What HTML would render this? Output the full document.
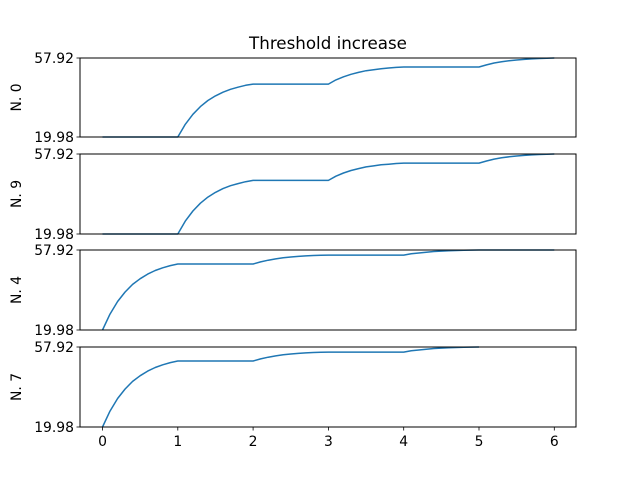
<!DOCTYPE html>
<html><head><meta charset="utf-8"><style>
html,body{margin:0;padding:0;background:#fff}
svg text{font-family:"DejaVu Sans","Liberation Sans",sans-serif;font-size:13.9px;fill:#000}
</style></head><body>
<svg id="chart" width="640" height="480" xmlns="http://www.w3.org/2000/svg">
<text x="328" y="49" text-anchor="middle" style="font-size:16.7px">Threshold increase</text>
</svg>
<script>
const times=[0,0.1,0.2,0.3,0.4,0.5,0.6,0.7,0.8,0.9,1,1.1,1.2,1.3,1.4,1.5,1.6,1.7,1.8,1.9,2,2.1,2.2,2.3,2.4,2.5,2.6,2.7,2.8,2.9,3,3.1,3.2,3.3,3.4,3.5,3.6,3.7,3.8,3.9,4,4.1,4.2,4.3,4.4,4.5,4.6,4.7,4.8,4.9,5,5.1,5.2,5.3,5.4,5.5,5.6,5.7,5.8,5.9,6];
const seriesN0=[19.98,19.98,19.98,19.98,19.98,19.98,19.98,19.98,19.98,19.98,19.98,
26.1,30.9,34.6,37.5,39.7,41.5,42.9,43.9,44.8,45.4,
45.4,45.4,45.4,45.4,45.4,45.4,45.4,45.4,45.4,45.4,
47.4,48.9,50.1,51.0,51.8,52.3,52.8,53.1,53.4,53.6,
53.6,53.6,53.6,53.6,53.6,53.6,53.6,53.6,53.6,53.6,
54.6,55.5,56.1,56.6,56.96,57.25,57.49,57.67,57.81,57.92];
const seriesN9=[19.98,19.98,19.98,19.98,19.98,19.98,19.98,19.98,19.98,19.98,19.98,
26.1,30.9,34.6,37.5,39.7,41.5,42.9,43.9,44.8,45.4,
45.4,45.4,45.4,45.4,45.4,45.4,45.4,45.4,45.4,45.4,
47.4,48.9,50.1,51.0,51.8,52.3,52.8,53.1,53.4,53.6,
53.6,53.6,53.6,53.6,53.6,53.6,53.6,53.6,53.6,53.6,
54.6,55.5,56.1,56.6,56.96,57.25,57.49,57.67,57.81,57.92];
const seriesN4=[19.98,27.5,33.5,38.0,41.6,44.3,46.5,48.2,49.5,50.5,51.3,
51.3,51.3,51.3,51.3,51.3,51.3,51.3,51.3,51.3,51.3,
52.3,53.1,53.7,54.2,54.6,54.9,55.1,55.3,55.4,55.5,
55.5,55.5,55.5,55.5,55.5,55.5,55.5,55.5,55.5,55.5,
56.1,56.5,56.9,57.2,57.4,57.55,57.68,57.78,57.86,57.92,
57.92,57.92,57.92,57.92,57.92,57.92,57.92,57.92,57.92,57.92];
const seriesN7=[19.98,27.5,33.5,38.0,41.6,44.3,46.5,48.2,49.5,50.5,51.3,
51.3,51.3,51.3,51.3,51.3,51.3,51.3,51.3,51.3,51.3,
52.3,53.1,53.7,54.2,54.6,54.9,55.1,55.3,55.4,55.5,
55.5,55.5,55.5,55.5,55.5,55.5,55.5,55.5,55.5,55.5,
56.1,56.5,56.9,57.2,57.4,57.55,57.68,57.78,57.86,57.92];
const panelLabels=["N. 0","N. 9","N. 4","N. 7"];
const yTickLabels=["19.98","57.92"];
const yMin=19.98,yMax=57.92;
const xTicks=[0,1,2,3,4,5,6];

const svg=document.getElementById('chart');
const NS='http://www.w3.org/2000/svg';
const L=80,R=576;
const panels=[[58,137],[154,234],[250,330],[347,427]];
const allSeries=[seriesN0,seriesN9,seriesN4,seriesN7];
const xs=t=>102.5+t*75.3;
function mk(tag,attrs){const e=document.createElementNS(NS,tag);for(const k in attrs)e.setAttribute(k,attrs[k]);svg.appendChild(e);return e;}
panels.forEach((p,i)=>{
  const [top,bot]=p;
  const ys=v=>bot-(v-yMin)/(yMax-yMin)*(bot-top);
  const pts=allSeries[i].map((v,j)=>xs(times[j]).toFixed(1)+','+ys(v).toFixed(1)).join(' ');
  const line=mk('polyline',{points:pts,fill:'none',stroke:'#1f77b4','stroke-width':1.5,'stroke-linejoin':'round'});
  
  
  const frame=mk('rect',{x:L,y:top,width:R-L,height:bot-top,fill:'none',stroke:'#000','stroke-width':1});
  
  
  [yMin,yMax].forEach((v,k)=>{
    mk('line',{x1:L-3.5,x2:L,y1:ys(v),y2:ys(v),stroke:'#000','stroke-width':0.8});
    const t=mk('text',{x:L-6,y:ys(v)+5,'text-anchor':'end'});
    t.textContent=yTickLabels[k];
    
    
  });
  const yl=mk('text',{x:0,y:0,'text-anchor':'middle',transform:`translate(21,${(top+bot)/2}) rotate(-90)`});
  yl.textContent=panelLabels[i];
  
  
  if(i===3){
    xTicks.forEach(t=>{
      mk('line',{x1:xs(t),x2:xs(t),y1:bot,y2:bot+3.5,stroke:'#000','stroke-width':0.8});
      const tx=mk('text',{x:xs(t),y:bot+19,'text-anchor':'middle'});
      tx.textContent=String(t);
      
      
    });
  }
});
</script>
</body></html>
